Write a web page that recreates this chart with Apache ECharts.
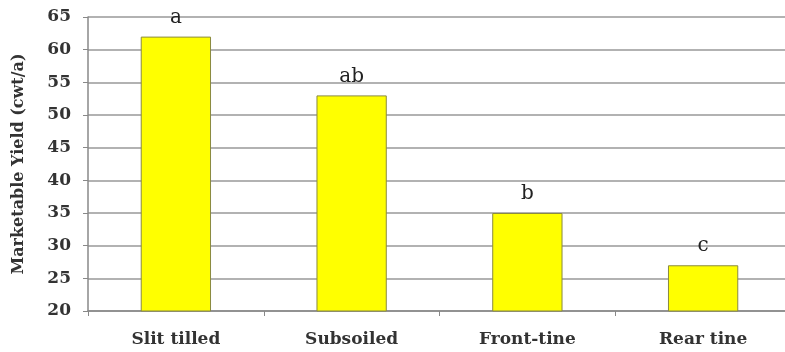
<!DOCTYPE html>
<html><head><meta charset="utf-8">
<script src="https://cdn.jsdelivr.net/npm/echarts@6/dist/echarts.min.js"></script>
<style>html,body{margin:0;padding:0;background:#fff;overflow:hidden}#c{width:785px;height:352px}</style>
</head><body><div id="c"></div>
<script>
var categories = ['Slit tilled', 'Subsoiled', 'Front-tine', 'Rear tine'];
var yieldValues = [62, 53, 35, 27];
var letters = ['a', 'ab', 'b', 'c'];
var yTicks = [20, 25, 30, 35, 40, 45, 50, 55, 60, 65];

var chart = echarts.init(document.getElementById('c'));
chart.setOption({
  backgroundColor: '#fff',
  animation: false,
  grid: { left: 88, width: 703, top: 17, bottom: 41, containLabel: false, outerBoundsMode: 'none' },
  xAxis: {
    type: 'category', data: categories,
    axisLine: { lineStyle: { color: '#888', width: 1.5 } },
    axisTick: { show: true, length: 5, lineStyle: { color: '#888' } },
    axisLabel: { color: '#333', fontFamily: 'DejaVu Serif', fontWeight: 'bold', fontSize: 17, margin: 20 }
  },
  yAxis: {
    type: 'value', min: yTicks[0], max: yTicks[yTicks.length - 1], interval: 5,
    name: 'Marketable Yield (cwt/a)', nameLocation: 'middle', nameGap: 61,
    nameTextStyle: { color: '#333', fontFamily: 'DejaVu Serif', fontWeight: 'bold', fontSize: 16 },
    axisLine: { show: true, lineStyle: { color: '#888', width: 1.5 } },
    axisTick: { show: true, length: 5, lineStyle: { color: '#888' } },
    splitLine: { lineStyle: { color: '#999', width: 1.5 } },
    axisLabel: { color: '#333', fontFamily: 'DejaVu Serif', fontWeight: 'bold', fontSize: 17, margin: 17 }
  },
  series: [{
    type: 'bar', barWidth: '40%',
    data: yieldValues.map(function (v, i) { return { value: v, label: { formatter: letters[i] } }; }),
    itemStyle: { color: '#ffff00', borderColor: '#8a8a40', borderWidth: 1 },
    label: { show: true, position: 'top', distance: 9, color: '#222', fontFamily: 'DejaVu Serif', fontSize: 20 }
  }]
});
</script></body></html>
